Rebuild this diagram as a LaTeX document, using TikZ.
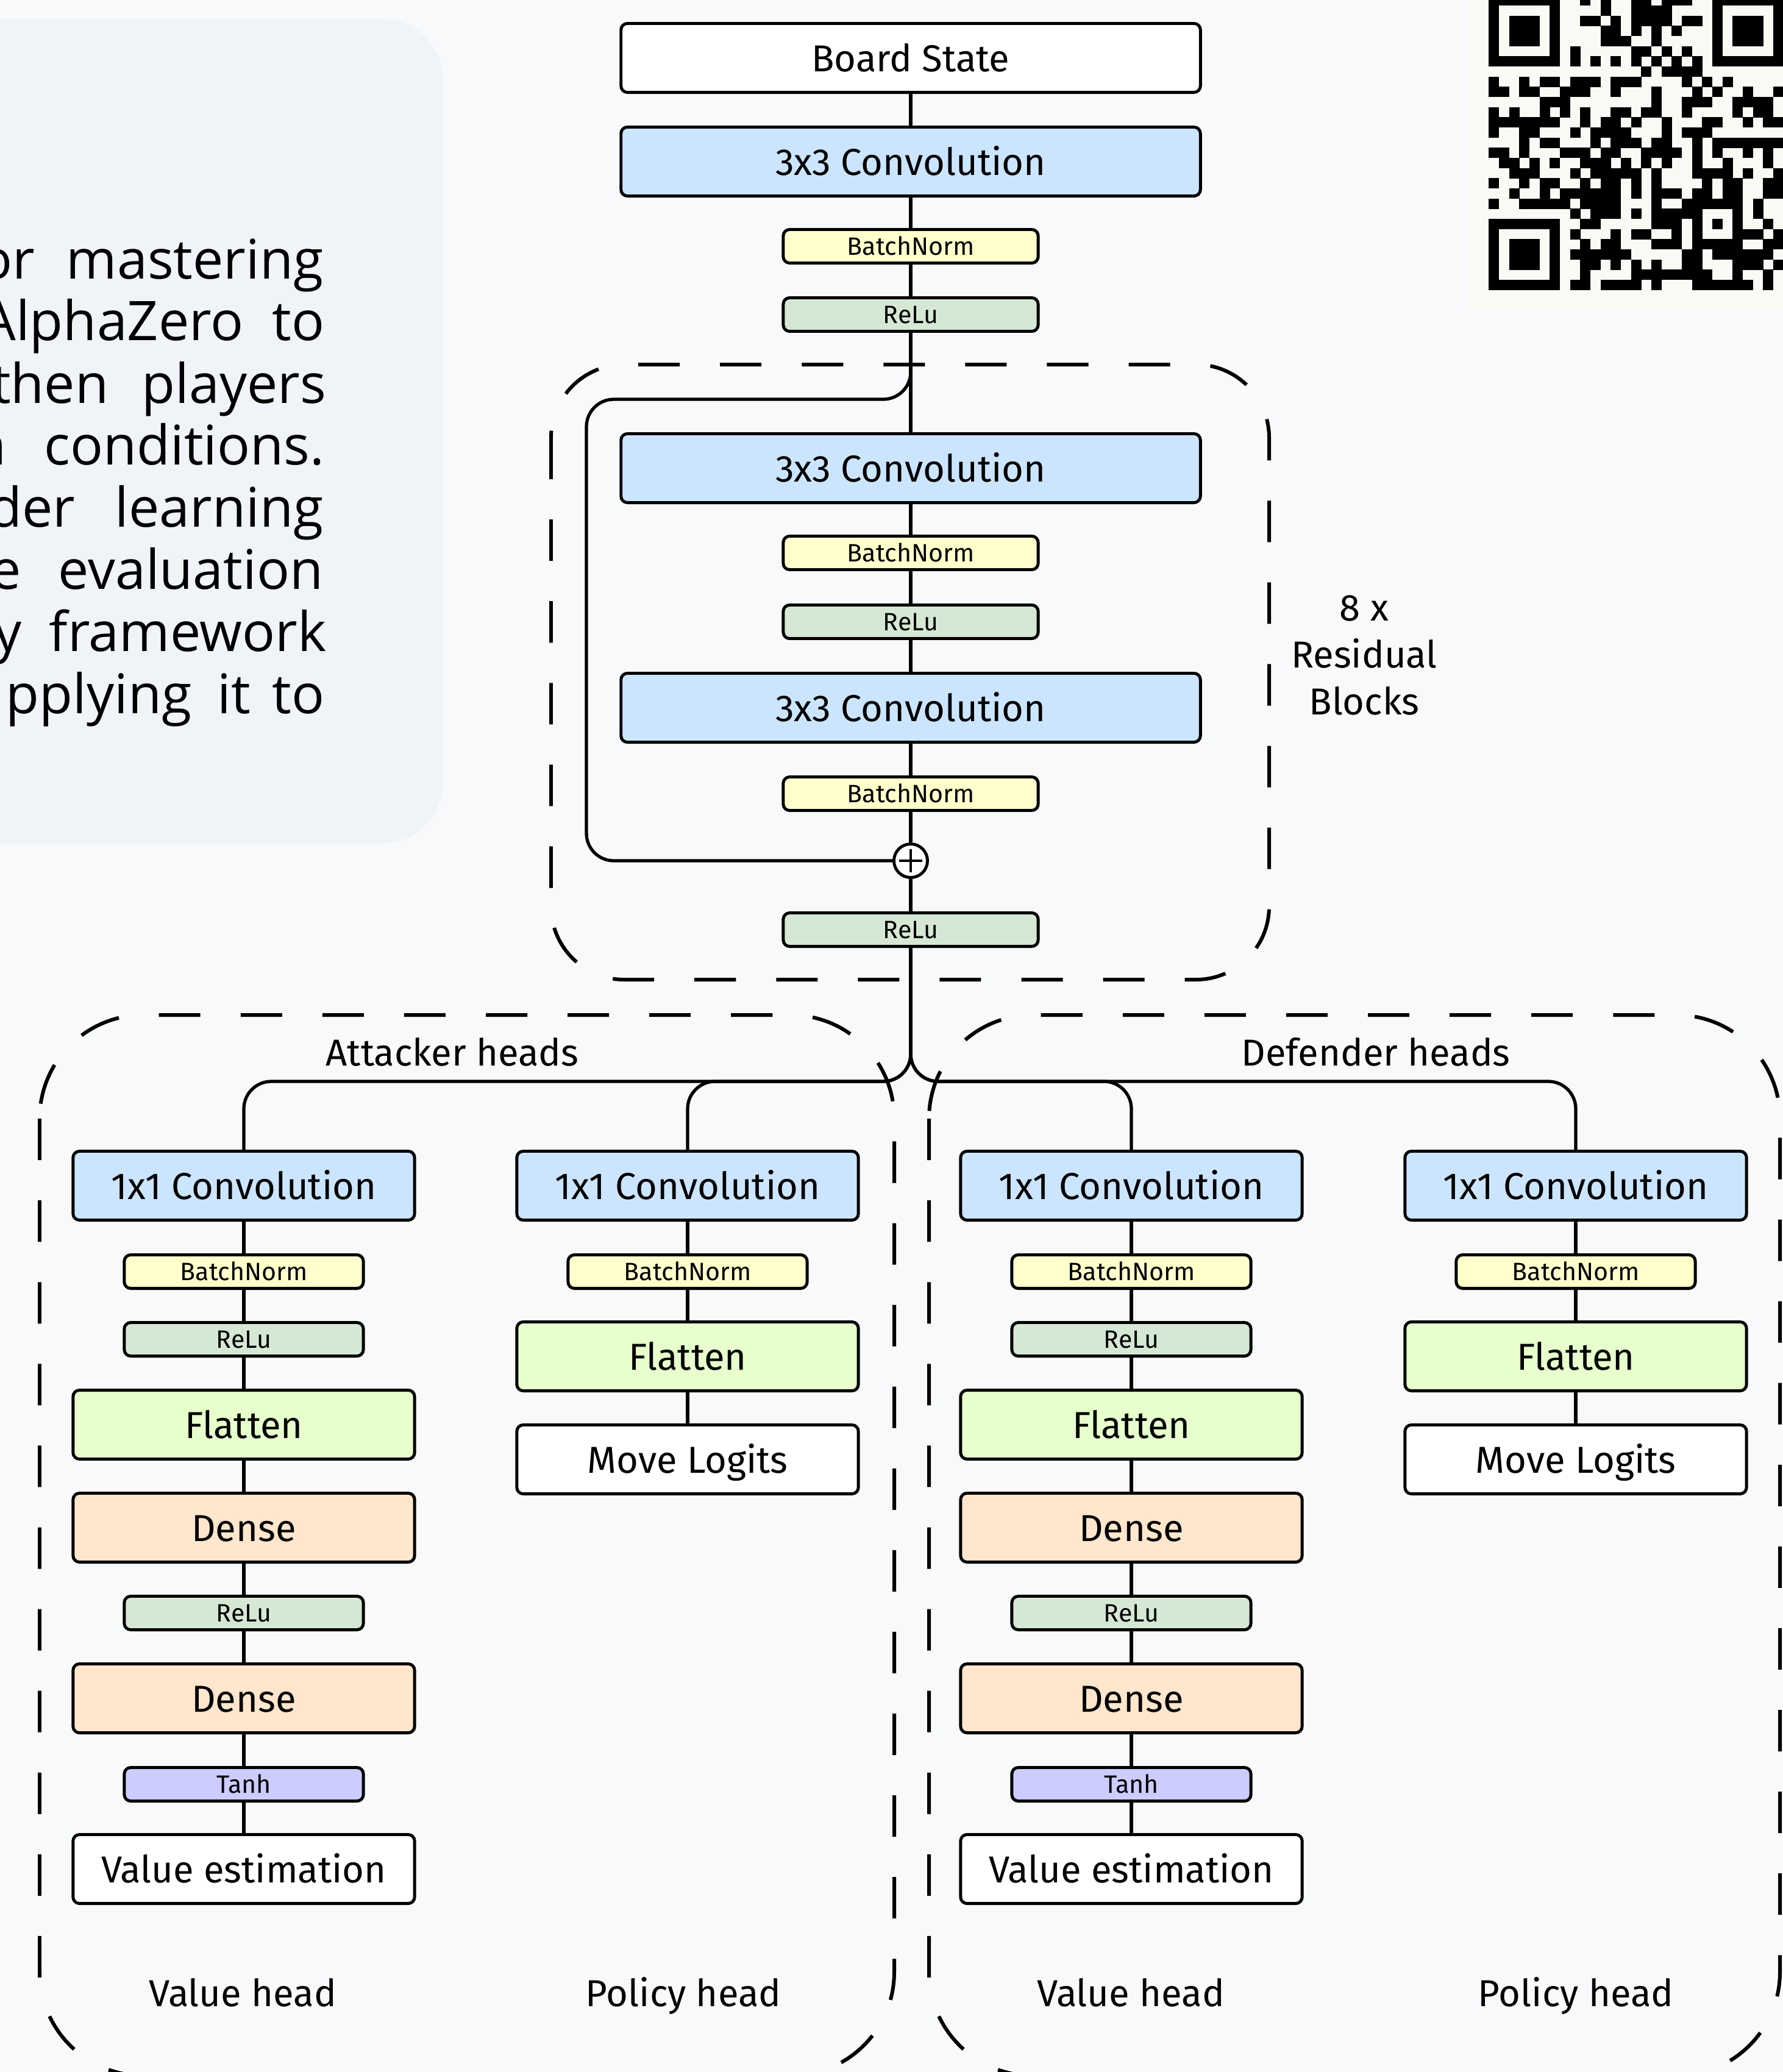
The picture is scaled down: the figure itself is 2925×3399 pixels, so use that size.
\documentclass[tikz,border=0pt]{standalone}
\usepackage{fontspec}
\setmainfont{Fira Sans}
\newfontfamily\blurbfont{Open Sans}
\usepackage{tikz}
\usepackage{xcolor}
\usetikzlibrary{positioning}

\definecolor{pagebg}{HTML}{F8F9FB}
\definecolor{panelbg}{HTML}{F0F3F8}
\definecolor{qrbg}{HTML}{FAFAF5}
\definecolor{convblue}{HTML}{CCE5FF}
\definecolor{normyellow}{HTML}{FFFFCC}
\definecolor{relugreen}{HTML}{D5E8D4}
\definecolor{flatgreen}{HTML}{E6FFCC}
\definecolor{denseorange}{HTML}{FFE6CC}
\definecolor{tanhpurple}{HTML}{CCCCFF}

\tikzset{
  block/.style={draw=black, line width=1.4pt, rounded corners=3pt, inner sep=0pt, minimum height=1.13cm, text height=15pt, text depth=2pt, font=\fontsize{17.5}{21}\selectfont},
  wideblock/.style={block, minimum width=9.5cm},
  headblock/.style={block, minimum width=5.6cm},
  thinblock/.style={block, minimum height=0.55cm, text height=10pt, text depth=1.5pt, font=\fontsize{11.7}{14}\selectfont},
  widethin/.style={thinblock, minimum width=4.18cm},
  headthin/.style={thinblock, minimum width=3.92cm},
  sumnode/.style={circle, draw=black, line width=1.4pt, fill=white, minimum size=0.55cm, inner sep=0pt,
    path picture={\draw[line width=1.2pt] ([yshift=0.19cm]path picture bounding box.center) -- ([yshift=-0.19cm]path picture bounding box.center);
                  \draw[line width=1.2pt] ([xshift=0.19cm]path picture bounding box.center) -- ([xshift=-0.19cm]path picture bounding box.center);}},
  link/.style={line width=1.5pt},
  fork/.style={link, rounded corners=0.45cm},
  groupbox/.style={line width=1.7pt, dash pattern=on 0.68cm off 0.66cm},
  caption/.style={font=\fontsize{17.5}{22}\selectfont, align=center, inner sep=0pt},
  blurb/.style={font=\blurbfont\fontsize{25.5}{30}\selectfont, inner sep=0pt, anchor=base east},
}

% one row of the QR code: #1 row number, #2 string of 0/1
\newcommand{\qrline}[2]{\def\qrrow{#1}\def\qrcol{0}\qrscan#2\relax}
\def\qrscan#1{\ifx#1\relax\else\ifnum#1=1 \fill[black] ({2442.3+16.67*\qrcol},{-7.7+16.67*\qrrow}) rectangle ++(16.9,16.9);\fi\pgfmathtruncatemacro\qrcol{\qrcol+1}\expandafter\qrscan\fi}

\begin{document}
\begin{tikzpicture}[x=0.01cm, y=-0.01cm]
            \useasboundingbox (0,0) rectangle (2925,3399);
            \clip (0,0) rectangle (2925,3399);
            \fill[pagebg] (0,0) rectangle (2925,3399);

            % text panel on the left
            \fill[panelbg, rounded corners=1cm] (-200,31) rectangle (727,1383);
            \node[blurb] (l1a) at (58,457) {or};
            \node[blurb] (l1b) at (531,457) {mastering};
            \node[blurb] (l2a) at (400,558) {AlphaZero};
            \node[blurb] (l2b) at (533,558) {to};
            \node[blurb] (l3a) at (179,661) {then};
            \node[blurb] (l3b) at (536,661) {players};
            \node[blurb] (l4a) at (11,762) {n};
            \node[blurb] (l4b) at (533,762) {conditions.};
            \node[blurb] (l5a) at (124,864) {der};
            \node[blurb] (l5b) at (531,864) {learning};
            \node[blurb] (l6a) at (36,966) {e};
            \node[blurb] (l6b) at (531,966) {evaluation};
            \node[blurb] (l7a) at (36,1068) {y};
            \node[blurb] (l7b) at (536,1068) {framework};
            \node[blurb] (l8a) at (315,1170) {pplying};
            \node[blurb] (l8b) at (412,1170) {it};
            \node[blurb] (l8c) at (533,1170) {to};

            % QR code
            \fill[qrbg] (2409,-10) rectangle (2935,509);
            \qrline{0}{11111110010100110111001111111}
            \qrline{1}{10000010000100111100001000001}
            \qrline{2}{10111010011010111101101011101}
            \qrline{3}{10111010000110101010001011101}
            \qrline{4}{10111010000111001000001011101}
            \qrline{5}{10000010100000110101001000001}
            \qrline{6}{11111110101010101010101111111}
            \qrline{7}{00000000000000010111100000000}
            \qrline{8}{10010110111011100001010100000}
            \qrline{9}{11011001110010001000101001001}
            \qrline{10}{00000111000000001001110011110}
            \qrline{11}{10100101010011011001000010110}
            \qrline{12}{11111110010110100100011001011}
            \qrline{13}{10011000101111000101110000000}
            \qrline{14}{00010110001011101100101111111}
            \qrline{15}{11010001110110011110101001010}
            \qrline{16}{01101010011101010100100100010}
            \qrline{17}{00111000101111101000111101001}
            \qrline{18}{10010110010110101000010110011}
            \qrline{19}{00100101111110101110110110011}
            \qrline{20}{10011111011110001001111110100}
            \qrline{21}{00000000101110101111100010100}
            \qrline{22}{11111110011000001110101010010}
            \qrline{23}{10000010100010110010100011101}
            \qrline{24}{10111010010110001110111110011}
            \qrline{25}{10111010111111000001101111110}
            \qrline{26}{10111010011010101001100011101}
            \qrline{27}{10000010010000111111110010010}
            \qrline{28}{11111110110111101000111111010}

            % dashed groups
            \draw[groupbox, rounded corners=1.2cm] (904,598) rectangle (2082,1607);
            \draw[groupbox, rounded corners=1.7cm] (65,1665) rectangle (1467,3405);
            \draw[groupbox, rounded corners=1.7cm] (1524,1665) rectangle (2920,3405);

            % trunk
            \node[wideblock, fill=white] (board) at (1494,95) {Board State};
            \node[wideblock, fill=convblue] (conv0) at (1494,265) {3x3 Convolution};
            \node[widethin, fill=normyellow] (bn0) at (1494,404) {BatchNorm};
            \node[widethin, fill=relugreen] (relu0) at (1494,516) {ReLu};
            \node[wideblock, fill=convblue] (conv1) at (1494,768) {3x3 Convolution};
            \node[widethin, fill=normyellow] (bn1) at (1494,907) {BatchNorm};
            \node[widethin, fill=relugreen] (relu1) at (1494,1020) {ReLu};
            \node[wideblock, fill=convblue] (conv2) at (1494,1161) {3x3 Convolution};
            \node[widethin, fill=normyellow] (bn2) at (1494,1302) {BatchNorm};
            \node[sumnode] (plus) at (1494,1412) {};
            \node[widethin, fill=relugreen] (relu2) at (1494,1525) {ReLu};
            \node[caption] (blocks) at (2238,1075) {8 x\\Residual\\Blocks};

            % attacker value head
            \node[headblock, fill=convblue] (avconv) at (400,1945) {1x1 Convolution};
            \node[headthin, fill=normyellow] (avbn) at (400,2086) {BatchNorm};
            \node[headthin, fill=relugreen] (avrelu) at (400,2197) {ReLu};
            \node[headblock, fill=flatgreen] (avflat) at (400,2337) {Flatten};
            \node[headblock, fill=denseorange] (avdense) at (400,2506) {Dense};
            \node[headthin, fill=relugreen] (avrelub) at (400,2646) {ReLu};
            \node[headblock, fill=denseorange] (avdenseb) at (400,2786) {Dense};
            \node[headthin, fill=tanhpurple] (avtanh) at (400,2927) {Tanh};
            \node[headblock, fill=white] (avout) at (400,3066) {Value estimation};

            % attacker policy head
            \node[headblock, fill=convblue] (apconv) at (1128,1945) {1x1 Convolution};
            \node[headthin, fill=normyellow] (apbn) at (1128,2086) {BatchNorm};
            \node[headblock, fill=flatgreen] (apflat) at (1128,2225) {Flatten};
            \node[headblock, fill=white] (apout) at (1128,2394) {Move Logits\hspace{0.32cm}};

            % defender value head
            \node[headblock, fill=convblue] (dvconv) at (1856,1945) {1x1 Convolution};
            \node[headthin, fill=normyellow] (dvbn) at (1856,2086) {BatchNorm};
            \node[headthin, fill=relugreen] (dvrelu) at (1856,2197) {ReLu};
            \node[headblock, fill=flatgreen] (dvflat) at (1856,2337) {Flatten};
            \node[headblock, fill=denseorange] (dvdense) at (1856,2506) {Dense};
            \node[headthin, fill=relugreen] (dvrelub) at (1856,2646) {ReLu};
            \node[headblock, fill=denseorange] (dvdenseb) at (1856,2786) {Dense};
            \node[headthin, fill=tanhpurple] (dvtanh) at (1856,2927) {Tanh};
            \node[headblock, fill=white] (dvout) at (1856,3066) {Value estimation};

            % defender policy head
            \node[headblock, fill=convblue] (dpconv) at (2585,1945) {1x1 Convolution};
            \node[headthin, fill=normyellow] (dpbn) at (2585,2086) {BatchNorm};
            \node[headblock, fill=flatgreen] (dpflat) at (2585,2225) {Flatten};
            \node[headblock, fill=white] (dpout) at (2585,2394) {Move Logits\hspace{0.32cm}};

            % group captions
            \node[caption] (attcap) at (742,1726) {Attacker heads};
            \node[caption] (defcap) at (2257,1726) {Defender heads};
            \node[caption, anchor=base] (avcap) at (398,3291) {Value head};
            \node[caption, anchor=base] (apcap) at (1121,3291) {Policy head};
            \node[caption, anchor=base] (dvcap) at (1855,3291) {Value head};
            \node[caption, anchor=base] (dpcap) at (2585,3291) {Policy head};

            % connections
            \coordinate (skipturn) at (962,655);
            \coordinate (forkrow) at (1494,1774);
            \draw[link] (board) -- (conv0);
            \draw[link] (conv0) -- (bn0);
            \draw[link] (bn0) -- (relu0);
            \draw[link] (relu0) -- (conv1);
            \draw[link] (conv1) -- (bn1);
            \draw[link] (bn1) -- (relu1);
            \draw[link] (relu1) -- (conv2);
            \draw[link] (conv2) -- (bn2);
            \draw[link] (bn2) -- (plus);
            \draw[link] (plus) -- (relu2);
            \draw[fork] (relu0.south) |- (skipturn) |- (plus.west);

            \draw[fork] (relu2.south) |- (forkrow -| avconv.north) -- (avconv.north);
            \draw[fork] (relu2.south) |- (forkrow -| apconv.north) -- (apconv.north);
            \draw[fork] (relu2.south) |- (forkrow -| dvconv.north) -- (dvconv.north);
            \draw[fork] (relu2.south) |- (forkrow -| dpconv.north) -- (dpconv.north);

            \draw[link] (avconv) -- (avbn);
            \draw[link] (avbn) -- (avrelu);
            \draw[link] (avrelu) -- (avflat);
            \draw[link] (avflat) -- (avdense);
            \draw[link] (avdense) -- (avrelub);
            \draw[link] (avrelub) -- (avdenseb);
            \draw[link] (avdenseb) -- (avtanh);
            \draw[link] (avtanh) -- (avout);
            \draw[link] (apconv) -- (apbn);
            \draw[link] (apbn) -- (apflat);
            \draw[link] (apflat) -- (apout);

            \draw[link] (dvconv) -- (dvbn);
            \draw[link] (dvbn) -- (dvrelu);
            \draw[link] (dvrelu) -- (dvflat);
            \draw[link] (dvflat) -- (dvdense);
            \draw[link] (dvdense) -- (dvrelub);
            \draw[link] (dvrelub) -- (dvdenseb);
            \draw[link] (dvdenseb) -- (dvtanh);
            \draw[link] (dvtanh) -- (dvout);
            \draw[link] (dpconv) -- (dpbn);
            \draw[link] (dpbn) -- (dpflat);
            \draw[link] (dpflat) -- (dpout);
        \end{tikzpicture}
\end{document}
